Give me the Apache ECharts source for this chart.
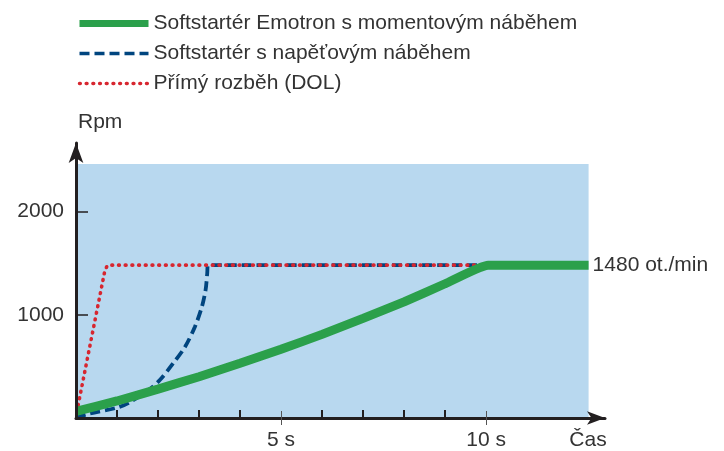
<!DOCTYPE html>
<html>
<head>
<meta charset="utf-8">
<script src="https://cdn.jsdelivr.net/npm/echarts@6/dist/echarts.min.js"></script>
<style>
  html, body { margin: 0; padding: 0; background: #fff; }
  #chart { width: 724px; height: 451px; }
</style>
</head>
<body>
<div id="chart"></div>
<script>
// nazvy rad (legenda)
var seriesNames = ['Softstartér Emotron s momentovým náběhem', 'Softstartér s napěťovým náběhem', 'Přímý rozběh (DOL)'];
// cas [s], otacky [rpm]
var emotronData = [[0, 65], [1, 165], [2, 280], [3, 400], [4, 530], [5, 665], [6, 810], [7, 965], [8, 1125], [9, 1300], [10.05, 1480], [12.5, 1480]];
var voltageData = [[0, 0], [0.3, 40], [1, 100], [1.3, 150], [1.8, 280], [2.05, 370], [2.37, 530], [2.66, 690], [2.9, 884], [3.07, 1077], [3.16, 1239], [3.2, 1400], [3.22, 1480], [10, 1480]];
var dolData = [[0.02, 60], [0.7, 1420], [0.76, 1475], [0.85, 1480], [10, 1480]];
// popisky os
var xLabelValues = [5, 10];
var xMinorTicks = [1, 2, 3, 4, 6, 7, 8, 9];
var yLabelValues = [1000, 2000];
var endText = '1480 ot./min';
// plocha pozadi
var areaMaxX = 12.5, areaMaxY = 2460;

var font = 'Liberation Sans';
var axisColor = '#231f20';
var textColor = '#333333';

var mychart = echarts.init(document.getElementById('chart'));
var option = {
  animation: false,
  grid: { left: 76, right: 119, top: 143, bottom: 33, outerBoundsMode: 'none', containLabel: false },
  legend: {
    data: [
      { name: seriesNames[0], lineStyle: { width: 7 } },
      { name: seriesNames[1], lineStyle: { width: 3.5 } },
      { name: seriesNames[2], lineStyle: { width: 3.5 } }
    ],
    orient: 'vertical',
    left: 76,
    top: 13,
    padding: 0,
    itemWidth: 69,
    itemHeight: 14,
    itemGap: 9,
    itemStyle: { opacity: 0 },
    textStyle: { fontFamily: font, fontSize: 21, lineHeight: 21, color: textColor }
  },
  xAxis: [
    {
      type: 'value', position: 'bottom', min: 0, max: 12.9, interval: 1, z: 10,
      axisLine: { show: true, lineStyle: { color: axisColor, width: 3 }, symbol: ['none', 'arrow'], symbolSize: [10, 18] },
      axisTick: { show: false },
      axisLabel: {
        customValues: xLabelValues, margin: 12,
        fontFamily: font, fontSize: 21, color: textColor,
        formatter: function (v) { return v + ' s'; }
      },
      splitLine: { show: false },
      name: 'Čas', nameLocation: 'end', nameGap: -17,
      nameTextStyle: { fontFamily: font, fontSize: 21, color: textColor, align: 'center', verticalAlign: 'top', padding: [12, 0, 0, 0] }
    },
    {
      type: 'value', position: 'bottom', min: 0, max: 12.9, offset: 4, z: 10,
      axisLine: { show: false },
      axisTick: { show: true, inside: true, length: 8, customValues: xMinorTicks, lineStyle: { color: axisColor, width: 2 } },
      axisLabel: { show: false },
      splitLine: { show: false }
    },
    {
      type: 'value', position: 'bottom', min: 0, max: 12.9, offset: 7, z: 10,
      axisLine: { show: false },
      axisTick: { show: true, inside: true, length: 14, customValues: xLabelValues, lineStyle: { color: '#555', width: 1 } },
      axisLabel: { show: false },
      splitLine: { show: false }
    }
  ],
  yAxis: [
    {
      type: 'value', position: 'left', min: 0, max: 2663, interval: 1000, z: 10,
      axisLine: { show: true, lineStyle: { color: axisColor, width: 3 }, symbol: ['none', 'arrow'], symbolSize: [11, 20] },
      axisTick: { show: false },
      axisLabel: {
        customValues: yLabelValues, margin: 12, fontFamily: font, fontSize: 21, color: textColor,
        formatter: function (v) { return String(v); }
      },
      splitLine: { show: false },
      name: 'Rpm', nameLocation: 'end', nameGap: 10,
      nameTextStyle: { fontFamily: font, fontSize: 21, color: textColor, align: 'left', padding: [0, 0, 0, 2] }
    },
    {
      type: 'value', position: 'left', min: 0, max: 2663, offset: 3, z: 10,
      axisLine: { show: false },
      axisTick: { show: true, inside: true, length: 12, customValues: yLabelValues, lineStyle: { color: axisColor, width: 1.5 } },
      axisLabel: { show: false },
      splitLine: { show: false }
    }
  ],
  series: [
    {
      // svetle modre pozadi
      name: 'bg', type: 'line', data: [], z: 1, silent: true,
      markArea: {
        silent: true,
        itemStyle: { color: '#b8d8ef', opacity: 1 },
        data: [[{ coord: [0, 0] }, { coord: [areaMaxX, areaMaxY] }]]
      }
    },
    {
      name: seriesNames[1], type: 'line', data: voltageData, z: 3,
      showSymbol: false, symbol: 'none', smooth: 0.3,
      itemStyle: { color: '#00457f' },
      lineStyle: { color: '#00457f', width: 3.8, type: [10, 5] }
    },
    {
      name: seriesNames[2], type: 'line', data: dolData, z: 4,
      showSymbol: false, symbol: 'none',
      itemStyle: { color: '#d7262f' },
      lineStyle: { color: '#d7262f', width: 3.6, type: [0.8, 5.9], cap: 'round' }
    },
    {
      name: seriesNames[0], type: 'line', data: emotronData, z: 5,
      showSymbol: false, symbol: 'none', smooth: 0.15,
      itemStyle: { color: '#2ba04b' },
      lineStyle: { color: '#2ba04b', width: 9 },
      endLabel: {
        show: true, distance: 4, formatter: endText,
        fontFamily: font, fontSize: 21, color: textColor
      }
    }
  ]
};
mychart.setOption(option);
</script>
</body>
</html>
